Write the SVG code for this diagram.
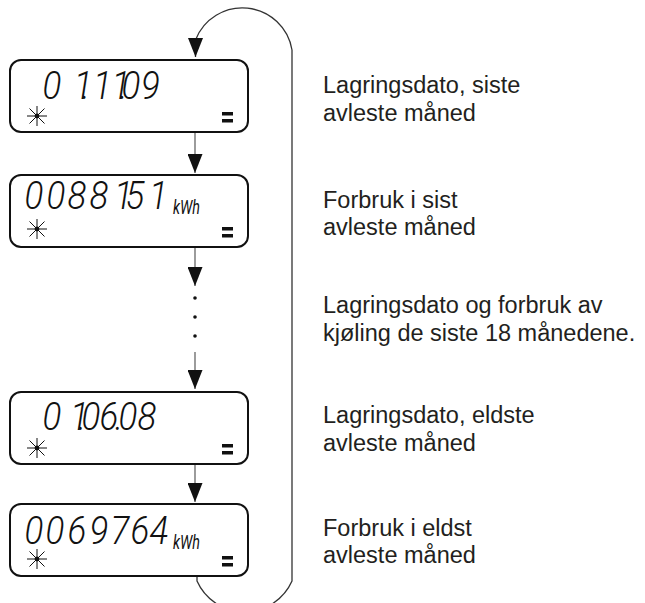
<svg xmlns="http://www.w3.org/2000/svg" width="645" height="603" viewBox="0 0 645 603">
<style>
  .disp { fill: #fff; stroke: #111; stroke-width: 2; }
  .lcd { font-family: Roboto, "DejaVu Sans", sans-serif; font-weight: 300; font-style: italic; font-size: 38px; fill: #111; }
  .unit { font-family: Roboto, "DejaVu Sans", sans-serif; font-style: italic; font-size: 20px; fill: #111; }
  .ray { stroke: #111; stroke-width: 1; }
  .lbl { font-family: "Liberation Sans", Arial, sans-serif; font-size: 23.5px; fill: #231f20; }
  .conn { fill: none; stroke: #666; stroke-width: 1.3; }
  .loop { fill: none; stroke: #333; stroke-width: 1.3; }
</style>
<defs>
  <marker id="ah" viewBox="0 0 19 15" refX="19" refY="7.5" markerWidth="19" markerHeight="15" markerUnits="userSpaceOnUse" orient="90">
    <path d="M0,0 L19,7.5 L0,15 z" fill="#111"/>
  </marker>
  <g id="sun">
    <line class="ray" x1="-10" y1="0" x2="10" y2="0"/>
    <line class="ray" x1="0" y1="-10" x2="0" y2="10"/>
    <line class="ray" x1="-7.5" y1="-7.5" x2="7.5" y2="7.5"/>
    <line class="ray" x1="-7.5" y1="7.5" x2="7.5" y2="-7.5"/>
    <circle r="2.4" fill="#111"/>
  </g>
  <g id="eq">
    <rect x="0" y="0" width="11" height="3.5" fill="#111"/>
    <rect x="0" y="7" width="11" height="3.5" fill="#111"/>
  </g>
</defs>

<g id="connectors">
  <path class="loop" d="M197,576 L197,581 A52,52 0 0,0 292,581 L292,50 A50.3,50.3 0 0,0 195.5,40 L195.5,57" marker-end="url(#ah)"/>
  <line class="conn" x1="195" y1="132" x2="195" y2="173" marker-end="url(#ah)"/>
  <line class="conn" x1="195" y1="247" x2="195" y2="286" marker-end="url(#ah)"/>
  <circle cx="195" cy="298" r="1.8" fill="#111"/>
  <circle cx="195" cy="317" r="1.8" fill="#111"/>
  <circle cx="195" cy="336" r="1.8" fill="#111"/>
  <line class="conn" x1="195" y1="352" x2="195" y2="389" marker-end="url(#ah)"/>
  <line class="conn" x1="195" y1="464" x2="195" y2="502" marker-end="url(#ah)"/>
</g>

<g id="display1">
  <rect class="disp" x="10" y="60" width="238" height="72" rx="11"/>
  <text class="lcd" transform="scale(0.92,1)" x="46.2 80.3 89 101 121.2 129.8 132 153.2" y="99">01.11.09</text>
  <use href="#sun" x="37" y="116"/>
  <use href="#eq" x="222" y="112"/>
</g>

<g id="display2">
  <rect class="disp" x="10" y="175" width="238" height="72" rx="11"/>
  <text class="lcd" transform="scale(0.92,1)" x="26.6 50.5 73.4 97.3 123.9 136.4 162" y="209">0088151</text>
  <text class="unit" x="173" y="214" textLength="27" lengthAdjust="spacingAndGlyphs">kWh</text>
  <use href="#sun" x="37" y="229"/>
  <use href="#eq" x="222" y="227"/>
</g>

<g id="display3">
  <rect class="disp" x="10" y="392" width="238" height="72" rx="11"/>
  <text class="lcd" transform="scale(0.92,1)" x="46.2 76.1 84.8 88.6 108.2 125 128.8 149.5" y="430">01.06.08</text>
  <use href="#sun" x="37" y="448"/>
  <use href="#eq" x="222" y="444"/>
</g>

<g id="display4">
  <rect class="disp" x="10" y="504" width="238" height="72" rx="11"/>
  <text class="lcd" transform="scale(0.92,1)" x="26.6 49.5 73.4 97.3 120.1 141.8 162.5" y="544">0069764</text>
  <text class="unit" x="173" y="549" textLength="27" lengthAdjust="spacingAndGlyphs">kWh</text>
  <use href="#sun" x="37" y="559"/>
  <use href="#eq" x="222" y="556"/>
</g>

<g id="labels">
  <text class="lbl" x="323" y="93">Lagringsdato, siste</text>
  <text class="lbl" x="323" y="121">avleste måned</text>
  <text class="lbl" x="323" y="208">Forbruk i sist</text>
  <text class="lbl" x="323" y="235">avleste måned</text>
  <text class="lbl" x="323" y="313">Lagringsdato og forbruk av</text>
  <text class="lbl" x="323" y="341">kjøling de siste 18 månedene.</text>
  <text class="lbl" x="323" y="423">Lagringsdato, eldste</text>
  <text class="lbl" x="323" y="451">avleste måned</text>
  <text class="lbl" x="323" y="536">Forbruk i eldst</text>
  <text class="lbl" x="323" y="563">avleste måned</text>
</g>
</svg>
